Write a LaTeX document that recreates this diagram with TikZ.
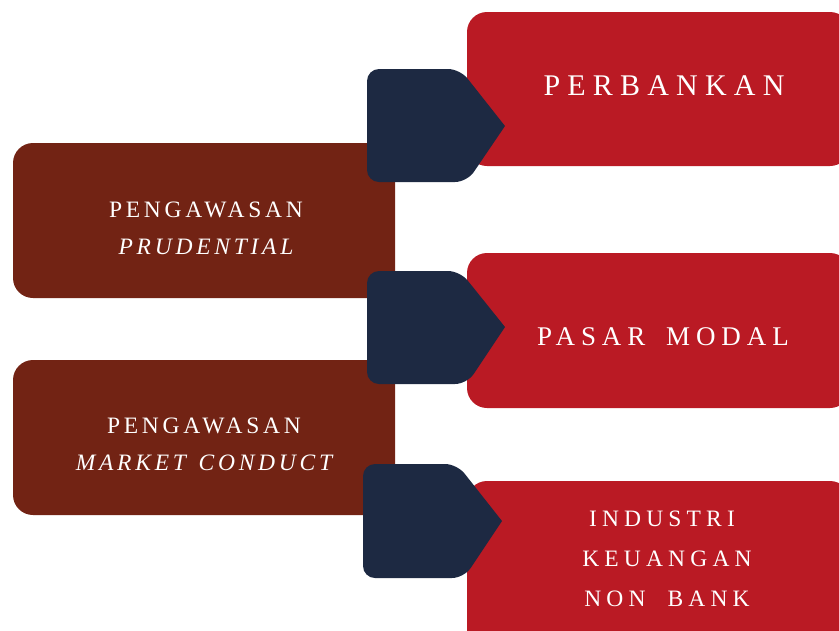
\documentclass[tikz,border=0pt]{standalone}
\usepackage{fontspec}
\setmainfont{Liberation Serif}
\definecolor{boxred}{HTML}{BA1A24}
\definecolor{boxbrown}{HTML}{722314}
\definecolor{arrownavy}{HTML}{1D2942}
\newfontfamily\spacedA[LetterSpace=22]{Liberation Serif}
\newfontfamily\spacedC[LetterSpace=24]{Liberation Serif}
\newfontfamily\spacedB[LetterSpace=16]{Liberation Serif}
\begin{document}
\begin{tikzpicture}[x=1pt,y=-1pt,
  redbox/.style={fill=boxred,rounded corners=20pt},
  brownbox/.style={fill=boxbrown,rounded corners=20pt},
  navyarrow/.style={fill=arrownavy},
  lbl/.style={text=white,align=center,inner sep=0pt}]
\useasboundingbox (0,0) rectangle (839,630);
\clip (0,0) rectangle (839,630);
% red boxes
\fill[redbox] (467,12) rectangle (850,166);
\fill[redbox] (467,253) rectangle (850,408);
\fill[redbox] (467,481) rectangle (850,660);
% brown boxes
\fill[brownbox] (13,143) rectangle (395,298);
\fill[brownbox] (13,360) rectangle (395,515);
% navy arrows
\fill[navyarrow] (505,126) [rounded corners=12pt] -- (460,69) -- (367,69) -- (367,182) -- (467,182) [sharp corners] -- cycle;
\fill[navyarrow] (505,327) [rounded corners=12pt] -- (460,271) -- (367,271) -- (367,384) -- (467,384) [sharp corners] -- cycle;
\fill[navyarrow] (502,521) [rounded corners=12pt] -- (457,464) -- (363,464) -- (363,578) -- (464,578) [sharp corners] -- cycle;
% labels
\node[lbl,font=\spacedC\fontsize{30}{34}\selectfont] (perbankan) at (664,86) {PERBANKAN};
\node[lbl,font=\spacedA\fontsize{27}{32}\selectfont] (pasar) at (663,337) {PASAR\hspace{8pt} MODAL};
\node[lbl,font=\spacedA\fontsize{23.5}{40}\selectfont] (industri) at (667,559) {INDUSTRI\hspace*{10pt}\\KEUANGAN\\NON\hspace{11pt} BANK};
\node[lbl,font=\spacedB\fontsize{23.5}{37}\selectfont] (prud) at (206,228) {PENGAWASAN\\\itshape PRUDENTIAL};
\node[lbl,font=\spacedB\fontsize{23.5}{37}\selectfont] (market) at (204,444) {PENGAWASAN\\\itshape MARKET\hspace{3pt} CONDUCT};
\end{tikzpicture}
\end{document}
